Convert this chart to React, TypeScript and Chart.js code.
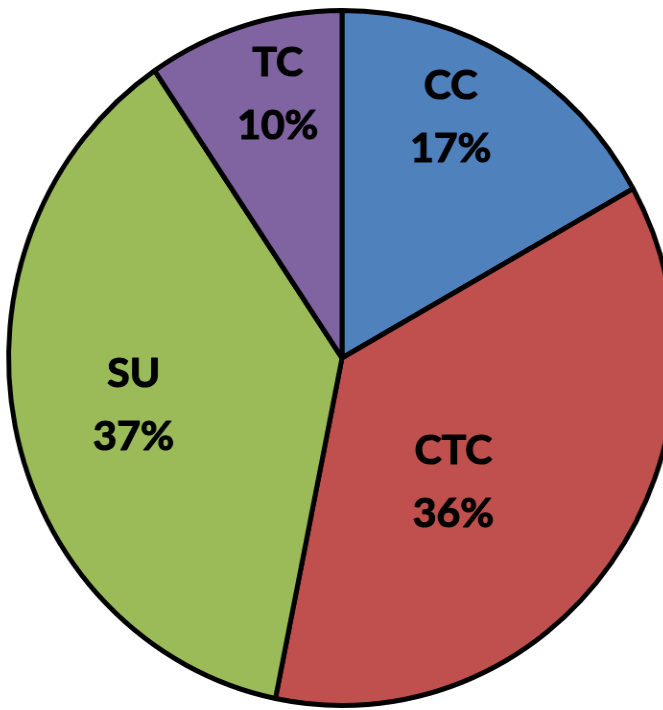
import React, { useEffect, useRef } from "react";
import { Chart, registerables } from "chart.js";

Chart.register(...registerables);

const categories = ["CC", "CTC", "SU", "TC"];
const values = [16.9, 36.3, 37.3, 9.5];
const sliceColors = ["#4F81BD", "#C0504D", "#9BBB59", "#8064A2"];

const SIZE = 714;
const SCALE_X = 331 / 345;

const labelPlugin = {
  id: "sliceLabels",
  afterDraw(chart: any, _args: any, opts: any) {
    const meta = chart.getDatasetMeta(0);
    const data: number[] = chart.data.datasets[0].data;
    const total = data.reduce((a, b) => a + b, 0);
    const ctx = chart.ctx;
    ctx.save();
    ctx.fillStyle = "#000";
    ctx.strokeStyle = "#000";
    ctx.lineWidth = 1.2;
    ctx.lineJoin = "round";
    ctx.font = "bold 41px Lato";
    ctx.textAlign = "center";
    ctx.textBaseline = "middle";
    meta.data.forEach((arc: any, i: number) => {
      const r = arc.outerRadius;
      const [fx, fy] = opts.positions[i];
      ctx.save();
      ctx.translate(arc.x + fx * r, arc.y + fy * r);
      ctx.scale(1 / SCALE_X, 1);
      const pct = Math.round((data[i] / total) * 100) + "%";
      const lines = [chart.data.labels[i], pct];
      lines.forEach((t: string, k: number) => {
        const y = k === 0 ? -31.5 : 31.5;
        ctx.fillText(t, 0, y);
        ctx.strokeText(t, 0, y);
      });
      ctx.restore();
    });
    ctx.restore();
  },
};

export default function App() {
  const ref = useRef<HTMLCanvasElement>(null);
  useEffect(() => {
    const chart = new Chart(ref.current!, {
      type: "pie",
      data: {
        labels: categories,
        datasets: [
          {
            data: values,
            backgroundColor: sliceColors,
            borderColor: "#000",
            borderWidth: 5,
          },
        ],
      },
      options: {
        animation: false,
        responsive: false,
        maintainAspectRatio: false,
        layout: { padding: 7 },
        plugins: {
          legend: { display: false },
          tooltip: { enabled: false },
          sliceLabels: {
            positions: [
              [0.326, -0.694],
              [0.334, 0.357],
              [-0.625, 0.135],
              [-0.193, -0.759],
            ],
          },
        } as any,
      },
      plugins: [labelPlugin],
    });
    return () => chart.destroy();
  }, []);
  return (
    <div
      style={{
        position: "fixed",
        left: 342 - SIZE / 2,
        top: 358 - SIZE / 2,
        width: SIZE,
        height: SIZE,
        transform: `scaleX(${SCALE_X})`,
        transformOrigin: "center center",
      }}
    >
      <canvas ref={ref} width={SIZE} height={SIZE} style={{ width: SIZE, height: SIZE }} />
    </div>
  );
}
